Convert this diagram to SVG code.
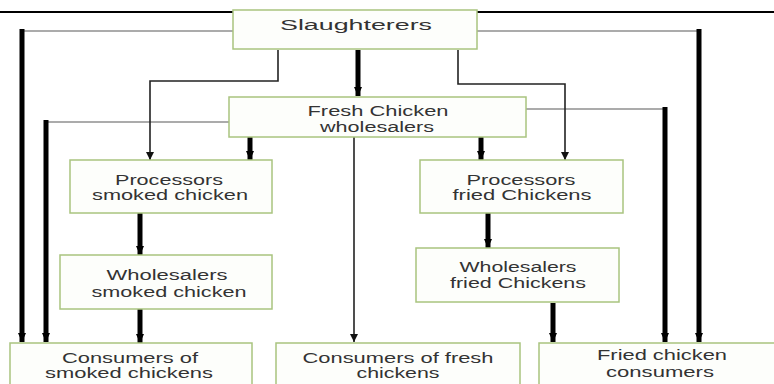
<svg xmlns="http://www.w3.org/2000/svg" width="774" height="384" viewBox="0 0 774 384">
<style>
.box{fill:#fdfefb;stroke:#a9c47f;stroke-width:1.5}
.t{font-family:"Liberation Sans",Arial,sans-serif;font-size:14px;fill:#333;text-anchor:middle}
.thick{stroke:#000;stroke-width:5;fill:none}
.thin{stroke:#222;stroke-width:1.6;fill:none}
.gray{stroke:#ababab;stroke-width:2;fill:none}
</style>
<defs>
<marker id="ah" markerUnits="userSpaceOnUse" markerWidth="9" markerHeight="8" refX="9" refY="4" orient="auto">
<path d="M0,0 L9,4 L0,8 z" fill="#000"/>
</marker>
<marker id="ahs" markerUnits="userSpaceOnUse" markerWidth="8" markerHeight="8" refX="8" refY="4" orient="auto">
<path d="M0,0 L8,4 L0,8 z" fill="#111"/>
</marker>
</defs>
<rect width="774" height="384" fill="#fff"/>
<line x1="0" y1="12" x2="774" y2="12" stroke="#000" stroke-width="2.2"/>
<g id="connectors">
<polyline class="gray" points="233,31 22,31"/>
<polyline class="gray" points="477,31 699,31"/>
<polyline class="gray" points="229,122 46,122"/>
<polyline class="gray" points="526,109 665,109"/>
<line class="thick" x1="22" y1="29" x2="22" y2="342" marker-end="url(#ah)"/>
<line class="thick" x1="699" y1="29" x2="699" y2="342" marker-end="url(#ah)"/>
<line class="thick" x1="46" y1="120" x2="46" y2="342" marker-end="url(#ah)"/>
<line class="thick" x1="665" y1="107" x2="665" y2="342" marker-end="url(#ah)"/>
<line class="thick" x1="358" y1="50" x2="358" y2="96" marker-end="url(#ah)"/>
<polyline class="thin" points="278,50 278,81 150,81 150,160" marker-end="url(#ahs)"/>
<polyline class="thin" points="458,50 458,84 565,84 565,160" marker-end="url(#ahs)"/>
<line class="thin" x1="354" y1="137" x2="354" y2="342" marker-end="url(#ahs)"/>
<line class="thick" x1="250" y1="137" x2="250" y2="160" marker-end="url(#ah)"/>
<line class="thick" x1="481" y1="137" x2="481" y2="160" marker-end="url(#ah)"/>
<line class="thick" x1="140" y1="213" x2="140" y2="255" marker-end="url(#ah)"/>
<line class="thick" x1="488" y1="213" x2="488" y2="248" marker-end="url(#ah)"/>
<line class="thick" x1="140" y1="309" x2="140" y2="343" marker-end="url(#ah)"/>
<line class="thick" x1="553" y1="303" x2="553" y2="342" marker-end="url(#ah)"/>
</g>
<g id="slaughterers">
<rect class="box" x="233" y="10" width="244" height="39"/>
<text class="t" x="356" y="30" textLength="152" lengthAdjust="spacingAndGlyphs">Slaughterers</text>
</g>
<g id="fresh-wholesalers">
<rect class="box" x="229" y="97" width="297" height="40"/>
<text class="t" x="378" y="116" textLength="141" lengthAdjust="spacingAndGlyphs">Fresh Chicken</text>
<text class="t" x="377" y="132" textLength="114" lengthAdjust="spacingAndGlyphs">wholesalers</text>
</g>
<g id="processors-smoked">
<rect class="box" x="70" y="160" width="202" height="53"/>
<text class="t" x="169" y="185" textLength="108" lengthAdjust="spacingAndGlyphs">Processors</text>
<text class="t" x="170" y="200" textLength="156" lengthAdjust="spacingAndGlyphs">smoked chicken</text>
</g>
<g id="processors-fried">
<rect class="box" x="420" y="160" width="203" height="53"/>
<text class="t" x="521" y="185" textLength="109" lengthAdjust="spacingAndGlyphs">Processors</text>
<text class="t" x="522" y="200" textLength="139" lengthAdjust="spacingAndGlyphs">fried Chickens</text>
</g>
<g id="wholesalers-smoked">
<rect class="box" x="60" y="255" width="212" height="54"/>
<text class="t" x="167" y="280" textLength="121" lengthAdjust="spacingAndGlyphs">Wholesalers</text>
<text class="t" x="169" y="297" textLength="155" lengthAdjust="spacingAndGlyphs">smoked chicken</text>
</g>
<g id="wholesalers-fried">
<rect class="box" x="416" y="248" width="203" height="54"/>
<text class="t" x="518" y="272" textLength="117" lengthAdjust="spacingAndGlyphs">Wholesalers</text>
<text class="t" x="518" y="288" textLength="136" lengthAdjust="spacingAndGlyphs">fried Chickens</text>
</g>
<g id="consumers-smoked">
<rect class="box" x="10" y="343" width="242" height="50"/>
<text class="t" x="130" y="363" textLength="136" lengthAdjust="spacingAndGlyphs">Consumers of</text>
<text class="t" x="129" y="378" textLength="168" lengthAdjust="spacingAndGlyphs">smoked chickens</text>
</g>
<g id="consumers-fresh">
<rect class="box" x="276" y="343" width="244" height="50"/>
<text class="t" x="398" y="363" textLength="191" lengthAdjust="spacingAndGlyphs">Consumers of fresh</text>
<text class="t" x="398" y="378" textLength="83" lengthAdjust="spacingAndGlyphs">chickens</text>
</g>
<g id="fried-consumers">
<rect class="box" x="539" y="343" width="245" height="50"/>
<text class="t" x="662" y="360" textLength="130" lengthAdjust="spacingAndGlyphs">Fried chicken</text>
<text class="t" x="660" y="377" textLength="108" lengthAdjust="spacingAndGlyphs">consumers</text>
</g>
</svg>
